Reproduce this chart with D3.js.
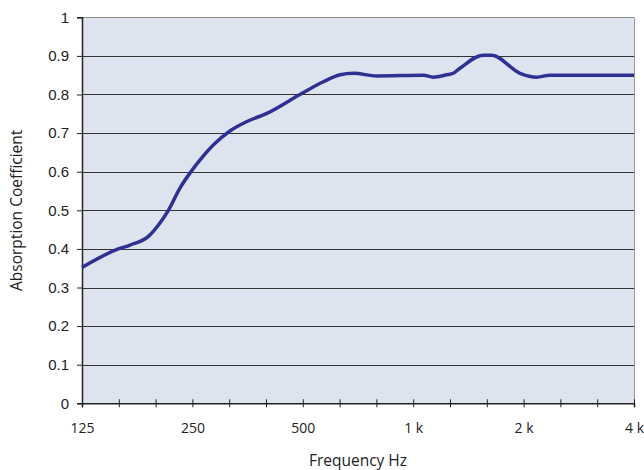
<!DOCTYPE html>
<html lang="en">
<head>
  <meta charset="utf-8" />
  <title>Absorption Coefficient</title>
  <script src="https://d3js.org/d3.v7.min.js"></script>
  <style>
    html, body {
      margin: 0;
      padding: 0;
      background: #fff;
      overflow: hidden;
    }
    .ylab { font-family: "Liberation Sans", Arial, sans-serif; font-size: 15px; fill: #222; }
    .xlab { font-family: "Open Sans", sans-serif; font-size: 14px; fill: #222; }
    .title { font-family: "Open Sans", sans-serif; font-size: 15.5px; fill: #222; }
  </style>
</head>
<body>
<script>
// readings (Hz, coefficient)
const freqs = [125, 157, 169, 190, 202, 215, 231, 246, 262, 285, 317, 352, 399, 491, 569, 632, 687, 795, 1066, 1134, 1234, 1286, 1341, 1553, 1637, 1955, 2171, 2360, 3000, 4000];
const alpha = [0.352, 0.40, 0.41, 0.433, 0.462, 0.50, 0.557, 0.596, 0.63, 0.669, 0.706, 0.73, 0.751, 0.80, 0.833, 0.851, 0.855, 0.848, 0.85, 0.845, 0.851, 0.855, 0.868, 0.902, 0.902, 0.855, 0.845, 0.85, 0.85, 0.85];

// third-octave ticks, labels on the octaves
const tickFreqs = d3.range(16).map(k => 125 * Math.pow(2, k / 3));
const octaveLabels = ["125", "250", "500", "1 k", "2 k", "4 k"];
const yTicks = d3.range(0, 11).map(i => i / 10);

const width = 644, height = 470;
const margin = { top: 17.3, right: 10, bottom: 66.7, left: 82 };

const svg = d3.select("body").append("svg")
  .attr("width", width)
  .attr("height", height);

const x = d3.scaleLog().base(2)
  .domain([125, 4000])
  .range([margin.left, width - margin.right]);

const y = d3.scaleLinear()
  .domain([0, 1])
  .range([height - margin.bottom, margin.top]);

// snap to pixel centres so 1px lines stay crisp
const snap = v => Math.round(v) + 0.5;

// plot background
svg.append("rect")
  .attr("x", x(125)).attr("y", y(1))
  .attr("width", x(4000) - x(125))
  .attr("height", y(0) - y(1))
  .attr("fill", "#dde3ef");

// right border
svg.append("line")
  .attr("x1", snap(x(4000))).attr("x2", snap(x(4000)))
  .attr("y1", y(1)).attr("y2", y(0))
  .attr("stroke", "#999").attr("stroke-width", 1);

// horizontal gridlines
svg.selectAll(".grid")
  .data(yTicks.filter(d => d > 0))
  .enter().append("line")
  .attr("x1", x(125)).attr("x2", x(4000))
  .attr("y1", d => snap(y(d))).attr("y2", d => snap(y(d)))
  .attr("stroke", d => d === 1 ? "#8a8a8a" : "#333")
  .attr("stroke-width", 1);

// y axis
const yAxis = svg.append("g")
  .attr("transform", `translate(${x(125)},0)`)
  .call(d3.axisLeft(y).tickValues(yTicks).tickSize(5).tickPadding(8)
    .tickFormat(d => d3.format("")(+d.toFixed(1))));
yAxis.select(".domain").attr("stroke", "#222").attr("stroke-width", 1.5);
yAxis.selectAll(".tick line").attr("stroke", "#222");
yAxis.selectAll(".tick text").attr("class", "ylab").attr("fill", null);

// x axis
const xAxis = svg.append("g")
  .attr("transform", `translate(0,${y(0)})`)
  .call(d3.axisBottom(x).tickValues(tickFreqs).tickSize(4).tickPadding(16)
    .tickFormat((d, i) => i % 3 === 0 ? octaveLabels[i / 3] : ""));
xAxis.select(".domain").attr("stroke", "#222").attr("stroke-width", 1.5);
xAxis.selectAll(".tick line").attr("stroke", "#222").attr("y1", -4);
xAxis.selectAll(".tick text").attr("class", "xlab").attr("fill", null);

// curve
const line = d3.line()
  .x((d, i) => x(freqs[i]))
  .y(d => y(d))
  .curve(d3.curveMonotoneX);

svg.append("path")
  .datum(alpha)
  .attr("d", line)
  .attr("fill", "none")
  .attr("stroke", "#2e3192")
  .attr("stroke-width", 3.5)
  .attr("stroke-linejoin", "round");

// axis titles
svg.append("text")
  .attr("class", "title")
  .attr("x", 358).attr("y", 466)
  .attr("text-anchor", "middle")
  .text("Frequency Hz");

svg.append("text")
  .attr("class", "title")
  .attr("transform", `translate(22,${(y(0) + y(1)) / 2}) rotate(-90)`)
  .attr("text-anchor", "middle")
  .text("Absorption Coefficient");
</script>
</body>
</html>
